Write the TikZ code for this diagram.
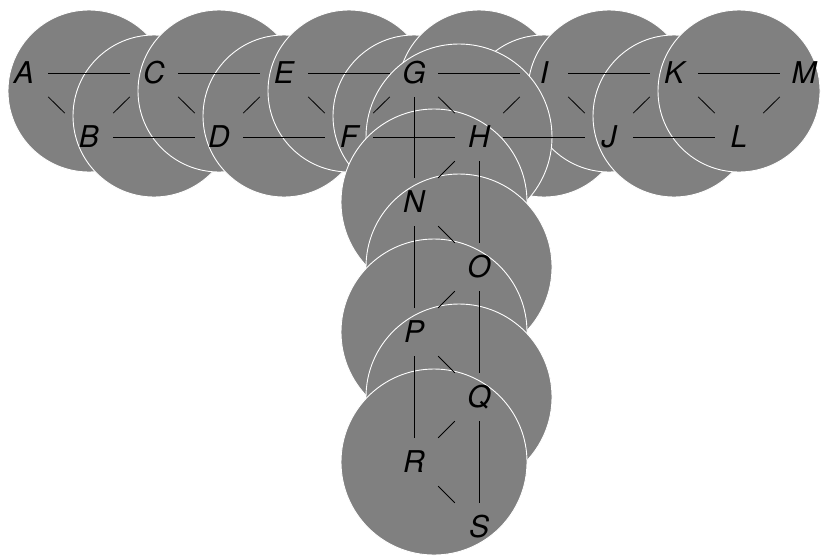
\documentclass[tikz,border=0pt]{standalone}
\usepackage{fontspec}
\setmainfont{TeX Gyre Heros}
\begin{document}
\begin{tikzpicture}[x=1pt,y=-1pt,
  blob/.style={fill=gray, draw=white, line width=0.9pt},
  vtx/.style={rectangle, inner sep=0pt, minimum width=48pt, minimum height=48pt,
    font=\fontsize{30}{36}\selectfont\itshape, text height=21.5pt, text depth=0pt},
  link/.style={draw=black, line width=0.8pt}]
\useasboundingbox (0,0) rectangle (821,555);
% horizontal blobs
\foreach \cx/\cy in {89/91,154/116,219/91,284/116,349/91,414/116,479/91,544/116,609/91,674/116,739/91}
  \draw[blob] (\cx,\cy) circle[radius=81pt];
% vertical blobs
\foreach \cx/\cy in {459/137,434/202,459/267,434/332,459/397,434/462}
  \draw[blob] (\cx,\cy) circle[radius=93pt];
% nodes
\node[vtx] (A) at (24,73) {A};
\node[vtx] (B) at (89,137) {B};
\node[vtx] (C) at (154,73) {C};
\node[vtx] (D) at (219,137) {D};
\node[vtx] (E) at (284,73) {E};
\node[vtx] (F) at (349,137) {F};
\node[vtx] (G) at (414,73) {G};
\node[vtx] (H) at (479,137) {H};
\node[vtx] (I) at (544,73) {I};
\node[vtx] (J) at (609,137) {J};
\node[vtx] (K) at (674,73) {K};
\node[vtx] (L) at (739,137) {L};
\node[vtx] (M) at (804,73) {M};
\node[vtx] (N) at (414,202) {N};
\node[vtx] (O) at (479,267) {O};
\node[vtx] (P) at (414,332) {P};
\node[vtx] (Q) at (479,397) {Q};
\node[vtx] (R) at (414,462) {R};
\node[vtx] (S) at (479,527) {S};
% edges
\foreach \u/\v in {A/C,A/B,B/C,B/D,C/D,C/E,D/E,D/F,E/F,E/G,F/G,F/H,G/H,G/I,H/I,H/J,I/J,I/K,J/K,J/L,K/L,K/M,L/M,
  G/N,H/N,H/O,N/O,N/P,O/P,O/Q,P/Q,P/R,Q/R,Q/S,R/S}
  \draw[link] (\u) -- (\v);
\end{tikzpicture}
\end{document}
